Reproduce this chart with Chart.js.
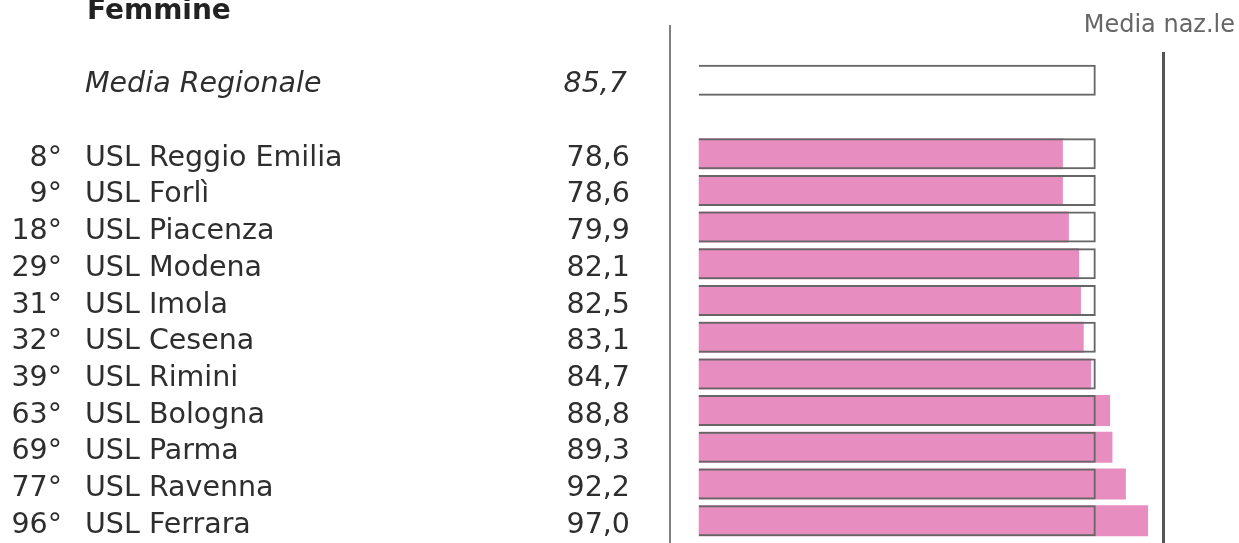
<!DOCTYPE html>
<html>
<head>
<meta charset="utf-8">
<script src="https://cdn.jsdelivr.net/npm/chart.js@4/dist/chart.umd.min.js"></script>
<style>
  html, body { margin: 0; padding: 0; background: #fff; }
  #wrap { width: 1239px; height: 543px; position: relative; }
</style>
</head>
<body>
<div id="wrap"><canvas id="femmine"></canvas></div>
<script>
// Femmine - ranking USL
const ranks = ['', '', '8°', '9°', '18°', '29°', '31°', '32°', '39°', '63°', '69°', '77°', '96°'];
const names = ['Media Regionale', '', 'USL Reggio Emilia', 'USL Forlì', 'USL Piacenza', 'USL Modena',
    'USL Imola', 'USL Cesena', 'USL Rimini', 'USL Bologna', 'USL Parma', 'USL Ravenna', 'USL Ferrara'];
const uslValues = [null, null, 78.6, 78.6, 79.9, 82.1, 82.5, 83.1, 84.7, 88.8, 89.3, 92.2, 97.0];
const mediaRegionale = 85.7;
const mediaNazionale = 100;

const meanBars = names.map(n => n === '' ? null : mediaRegionale);
const fmt = v => v.toFixed(1).replace('.', ',');

const rowLabels = {
    id: 'rowLabels',
    afterDraw(chart) {
        const ctx = chart.ctx;
        const xs = chart.scales.x;
        const ys = chart.scales.y;
        ctx.save();

        // left axis line
        ctx.fillStyle = '#808080';
        ctx.fillRect(chart.chartArea.left - 1, 25, 2, chart.height - 25);

        // national mean line
        const nx = xs.getPixelForValue(mediaNazionale);
        ctx.fillStyle = '#555';
        ctx.fillRect(nx, 52, 3, chart.height - 52);
        ctx.font = '24px "DejaVu Sans"';
        ctx.fillStyle = '#666';
        ctx.textAlign = 'right';
        ctx.textBaseline = 'alphabetic';
        ctx.fillText('Media naz.le', 1235, 32);

        // title
        ctx.fillStyle = '#222';
        ctx.textAlign = 'left';
        ctx.font = 'bold 28px "DejaVu Sans"';
        ctx.fillText('Femmine', 87, 19);

        ctx.fillStyle = '#2e2e2e';
        names.forEach((name, i) => {
            if (!name) return;
            const cy = ys.getPixelForValue(i) + 12;
            const val = i === 0 ? mediaRegionale : uslValues[i];
            ctx.font = (i === 0 ? 'italic ' : '') + '28.5px "DejaVu Sans"';
            ctx.textAlign = 'right';
            if (ranks[i]) ctx.fillText(ranks[i], 62, cy);
            ctx.fillText(fmt(val), i === 0 ? 627 : 630, cy);
            ctx.textAlign = 'left';
            ctx.fillText(name, 85, cy);
        });
        ctx.restore();
    }
};

const femmineChart = new Chart(document.getElementById('femmine'), {
    type: 'bar',
    data: {
        labels: names,
        datasets: [
            {
                label: 'Media Regionale',
                data: meanBars,
                backgroundColor: 'rgba(0,0,0,0)',
                borderColor: '#666',
                borderWidth: 2,
                order: 0
            },
            {
                label: 'Femmine',
                data: uslValues,
                backgroundColor: '#E88DC0',
                borderWidth: 0,
                order: 1
            }
        ]
    },
    options: {
        indexAxis: 'y',
        responsive: true,
        maintainAspectRatio: false,
        animation: false,
        datasets: {
            bar: { grouped: false, barPercentage: 0.845, categoryPercentage: 1 }
        },
        layout: { padding: { left: 670, right: 77, top: 62, bottom: 4 } },
        plugins: {
            legend: { display: false },
            tooltip: { enabled: false }
        },
        scales: {
            x: { display: false, min: -6.2, max: mediaNazionale },
            y: { display: false }
        }
    },
    plugins: [rowLabels]
});
</script>
</body>
</html>
